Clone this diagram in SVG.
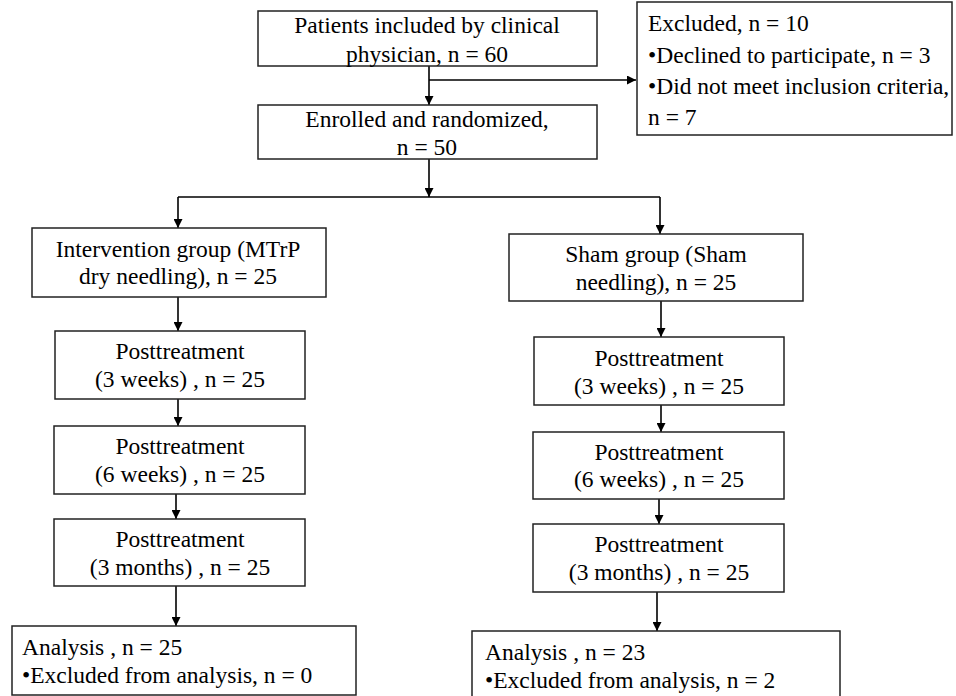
<svg xmlns="http://www.w3.org/2000/svg" width="956" height="696" viewBox="0 0 956 696">
<defs>
<marker id="ah" viewBox="0 0 10 10" refX="10" refY="5" markerWidth="9" markerHeight="9" markerUnits="userSpaceOnUse" orient="auto">
<path d="M0,0 L10,5 L0,10 Z" fill="#000"/>
</marker>
<style>
.box{fill:#fff;stroke:#222;stroke-width:1.5}
.t{font-family:'Liberation Serif','Times New Roman',Times,serif;font-size:23.5px;fill:#000}
.c{text-anchor:middle}
.ln{fill:none;stroke:#000;stroke-width:1.6}
.ar{fill:none;stroke:#000;stroke-width:1.6;marker-end:url(#ah)}
</style>
</defs>
<rect width="956" height="696" fill="#fff"/>
<g id="connectors">
<line class="ar" x1="429" y1="66" x2="429" y2="105"/>
<line class="ar" x1="429" y1="80" x2="636" y2="80"/>
<line class="ar" x1="429" y1="159" x2="429" y2="197"/>
<line class="ln" x1="178" y1="197" x2="660" y2="197"/>
<line class="ar" x1="178" y1="197" x2="178" y2="228"/>
<line class="ar" x1="660" y1="197" x2="660" y2="234"/>
<line class="ar" x1="178" y1="297" x2="178" y2="331"/>
<line class="ar" x1="178" y1="399" x2="178" y2="426"/>
<line class="ar" x1="176" y1="494" x2="176" y2="519"/>
<line class="ar" x1="176" y1="586" x2="176" y2="626"/>
<line class="ar" x1="661" y1="301" x2="661" y2="337"/>
<line class="ar" x1="661" y1="405" x2="661" y2="432"/>
<line class="ar" x1="659" y1="499" x2="659" y2="524"/>
<line class="ar" x1="657" y1="592" x2="657" y2="631"/>
</g>
<g class="t">
<g id="screened">
<rect class="box" x="258" y="11" width="339" height="55"/>
<text class="c" x="427" y="33">Patients included by clinical</text>
<text class="c" x="427" y="62">physician, n = 60</text>
</g>
<g id="excluded">
<rect class="box" x="637" y="2" width="315" height="133"/>
<text x="648" y="31">Excluded, n = 10</text>
<text x="648" y="63">•Declined to participate, n = 3</text>
<text x="648" y="94">•Did not meet inclusion criteria,</text>
<text x="648" y="125">n = 7</text>
</g>
<g id="enrolled">
<rect class="box" x="258" y="105" width="339" height="54"/>
<text class="c" x="427" y="127">Enrolled and randomized,</text>
<text class="c" x="427" y="155">n = 50</text>
</g>
<g id="intervention">
<rect class="box" x="32" y="228" width="294" height="69"/>
<text class="c" x="178" y="257">Intervention group (MTrP</text>
<text class="c" x="178" y="284">dry needling), n = 25</text>
</g>
<g id="sham">
<rect class="box" x="509" y="234" width="294" height="67"/>
<text class="c" x="656" y="262">Sham group (Sham</text>
<text class="c" x="656" y="290">needling), n = 25</text>
</g>
<g id="int-3w">
<rect class="box" x="55" y="331" width="250" height="68"/>
<text class="c" x="180" y="359">Posttreatment</text>
<text class="c" x="180" y="387">(3 weeks) , n = 25</text>
</g>
<g id="int-6w">
<rect class="box" x="54" y="426" width="251" height="68"/>
<text class="c" x="180" y="454">Posttreatment</text>
<text class="c" x="180" y="482">(6 weeks) , n = 25</text>
</g>
<g id="int-3m">
<rect class="box" x="54" y="519" width="251" height="67"/>
<text class="c" x="180" y="547">Posttreatment</text>
<text class="c" x="180" y="575">(3 months) , n = 25</text>
</g>
<g id="int-analysis">
<rect class="box" x="12" y="626" width="344" height="69"/>
<text x="22" y="655">Analysis , n = 25</text>
<text x="22" y="683">•Excluded from analysis, n = 0</text>
</g>
<g id="sham-3w">
<rect class="box" x="534" y="337" width="250" height="68"/>
<text class="c" x="659" y="366">Posttreatment</text>
<text class="c" x="659" y="394">(3 weeks) , n = 25</text>
</g>
<g id="sham-6w">
<rect class="box" x="533" y="432" width="251" height="67"/>
<text class="c" x="659" y="460">Posttreatment</text>
<text class="c" x="659" y="487">(6 weeks) , n = 25</text>
</g>
<g id="sham-3m">
<rect class="box" x="533" y="524" width="251" height="68"/>
<text class="c" x="659" y="552">Posttreatment</text>
<text class="c" x="659" y="580">(3 months) , n = 25</text>
</g>
<g id="sham-analysis">
<rect class="box" x="472" y="631" width="368" height="70"/>
<text x="485" y="660">Analysis , n = 23</text>
<text x="485" y="688">•Excluded from analysis, n = 2</text>
</g>
</g>
</svg>
